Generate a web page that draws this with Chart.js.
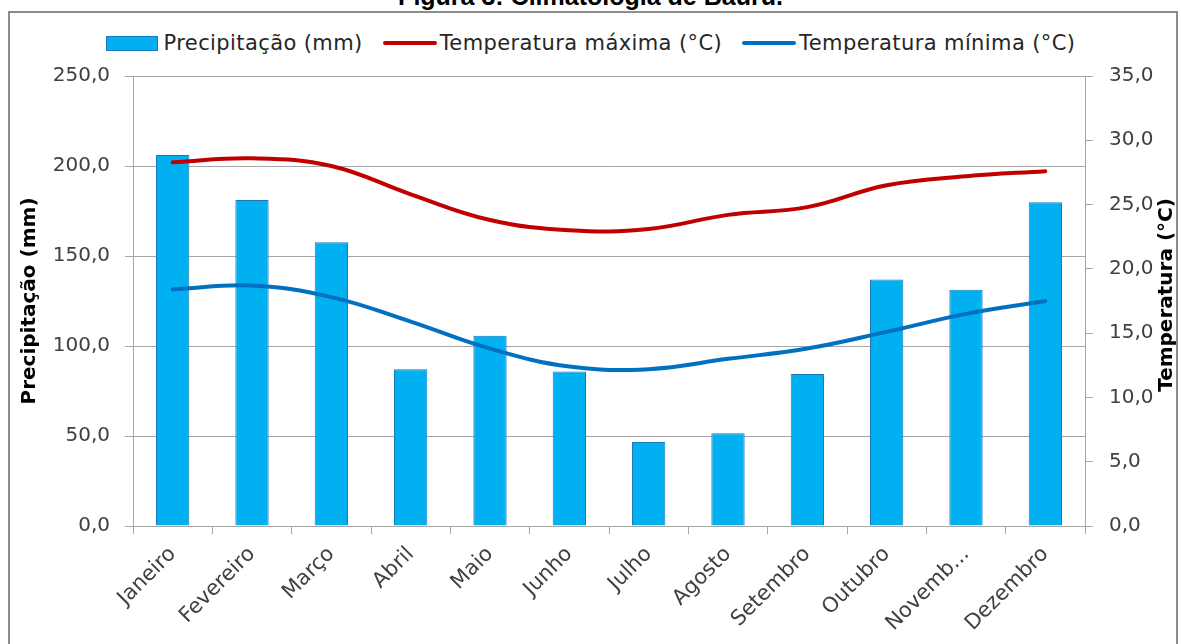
<!DOCTYPE html>
<html>
<head>
<meta charset="utf-8">
<script src="https://cdn.jsdelivr.net/npm/chart.js"></script>
<style>
  body { margin: 0; background: #fff; overflow: hidden; }
  #wrap { position: relative; width: 1181px; height: 644px; }
  #frame { position: absolute; left: 8px; top: 11px; width: 1170px; height: 645px; border: 2px solid #8c8c8c; box-sizing: border-box; }
  #title { position: absolute; top: -16px; left: 0; width: 1181px; text-align: center; font: bold 25px "Liberation Sans", Arial, sans-serif; line-height: 1; color: #000; }
  #legend-wrapper { position: absolute; top: 31px; left: 0; width: 1181px; display: flex; justify-content: center; font: 21px "DejaVu Sans", sans-serif; letter-spacing: 0.4px; color: #262626; }
  .legend-item { display: flex; align-items: center; margin: 0 10px; height: 24px; }
  .legend-color { margin-right: 6px; }
  .legend-item span { white-space: nowrap; }
  #chart { position: absolute; left: 0; top: 0; }
</style>
</head>
<body>
<div id="wrap">
  <div id="frame"></div>
  <div id="title">Figura 3: Climatologia de Bauru.</div>
  <div id="legend-wrapper"></div>
  <canvas id="chart" width="1181" height="644"></canvas>
</div>
<script>
Chart.defaults.plugins.legend.display = false;
Chart.defaults.font.family = '"DejaVu Sans", sans-serif';

const fontColor = '#404040';
const gridColor = '#a6a6a6';

// dados
const meses = ['Janeiro', 'Fevereiro', 'Março', 'Abril', 'Maio', 'Junho', 'Julho', 'Agosto', 'Setembro', 'Outubro', 'Novemb...', 'Dezembro'];
const precipitacao = [206.1, 181.1, 157.7, 87.1, 105.7, 85.8, 46.7, 51.5, 84.4, 137.0, 131.2, 179.8];
const tempMaxima = [28.3, 28.6, 28.0, 25.8, 23.8, 23.0, 23.1, 24.2, 24.8, 26.5, 27.2, 27.6];
const tempMinima = [18.4, 18.7, 17.8, 15.9, 13.8, 12.4, 12.2, 13.0, 13.8, 15.1, 16.5, 17.5];
const ticksPrecip = [0, 50, 100, 150, 200, 250];
const ticksTemp = [0, 5, 10, 15, 20, 25, 30, 35];
const tituloDireita = 'Temperatura (°C)';

const fmt = v => v.toFixed(1).replace('.', ',');

const datasets = [
    {
        type: 'bar',
        label: 'Precipitação (mm)',
        data: precipitacao,
        backgroundColor: '#00b0f0',
        borderColor: '#1a78bd',
        borderWidth: 1,
        barPercentage: 0.42,
        categoryPercentage: 1,
        yAxisID: 'y',
        order: 1
    },
    {
        type: 'line',
        label: 'Temperatura máxima (°C)',
        data: tempMaxima,
        borderColor: '#c00000',
        borderWidth: 4,
        pointRadius: 0,
        tension: 0.4,
        borderCapStyle: 'round',
        fill: false,
        yAxisID: 'y1',
        order: 0
    },
    {
        type: 'line',
        label: 'Temperatura mínima (°C)',
        data: tempMinima,
        borderColor: '#0070c0',
        borderWidth: 4,
        pointRadius: 0,
        tension: 0.4,
        borderCapStyle: 'round',
        fill: false,
        yAxisID: 'y1',
        order: 0
    }
];

// right axis title reads bottom-to-top like Excel
const rightTitle = {
    id: 'rightTitle',
    afterDraw: (chart) => {
        const {ctx, chartArea} = chart;
        ctx.save();
        ctx.translate(chart.width - 14, (chartArea.top + chartArea.bottom) / 2 - 6);
        ctx.rotate(-Math.PI / 2);
        ctx.font = 'bold 20px "DejaVu Sans", sans-serif';
        ctx.fillStyle = '#000';
        ctx.textAlign = 'center';
        ctx.textBaseline = 'middle';
        ctx.fillText(tituloDireita, 0, 0);
        ctx.restore();
    }
};

const config = {
    data: { labels: meses, datasets: datasets },
    options: {
        responsive: false,
        animation: false,
        layout: { padding: { top: 76, left: 10, right: 0, bottom: 0 } },
        plugins: { tooltip: { enabled: false } },
        scales: {
            x: {
                offset: true,
                grid: { drawOnChartArea: false, color: gridColor, tickLength: 8 },
                border: { color: gridColor },
                ticks: { color: fontColor, font: { size: 21 }, maxRotation: 45, minRotation: 45, autoSkip: false, padding: 8 },
                afterFit: scale => { scale.height = 118; }
            },
            y: {
                position: 'left',
                min: 0,
                max: 250,
                afterBuildTicks: scale => { scale.ticks = ticksPrecip.map(v => ({ value: v })); },
                grid: { color: gridColor, tickLength: 8 },
                border: { color: gridColor },
                ticks: { color: fontColor, font: { size: 20 }, padding: 15, callback: v => fmt(v) },
                title: { display: true, text: 'Precipitação (mm)', color: '#000', font: { size: 20, weight: 'bold' }, padding: { top: 8, bottom: 0 } },
                afterFit: scale => { scale.width = 123; }
            },
            y1: {
                position: 'right',
                min: 0,
                max: 35,
                afterBuildTicks: scale => { scale.ticks = ticksTemp.map(v => ({ value: v })); },
                grid: { drawOnChartArea: false, color: gridColor, tickLength: 8 },
                border: { color: gridColor },
                ticks: { color: fontColor, font: { size: 20 }, padding: 16, callback: v => fmt(v) },
                afterFit: scale => { scale.width = 96; }
            }
        }
    },
    plugins: [rightTitle]
};

const myChart = new Chart(document.getElementById('chart'), config);

// legenda em HTML
const legendContainer = document.getElementById('legend-wrapper');
datasets.forEach(dataset => {
    const legendItem = document.createElement('div');
    legendItem.classList.add('legend-item');

    const colorIndicator = document.createElement('div');
    colorIndicator.classList.add('legend-color');
    if (dataset.type === 'bar') {
        colorIndicator.style.width = '50px';
        colorIndicator.style.height = '13px';
        colorIndicator.style.background = dataset.backgroundColor;
        colorIndicator.style.border = '1px solid ' + dataset.borderColor;
    } else {
        colorIndicator.style.width = '54px';
        colorIndicator.style.height = '4px';
        colorIndicator.style.borderRadius = '2px';
        colorIndicator.style.background = dataset.borderColor;
        colorIndicator.style.marginRight = '3px';
    }

    const textBlock = document.createElement('span');
    textBlock.textContent = dataset.label;

    legendItem.appendChild(colorIndicator);
    legendItem.appendChild(textBlock);
    legendContainer.appendChild(legendItem);
});
</script>
</body>
</html>
